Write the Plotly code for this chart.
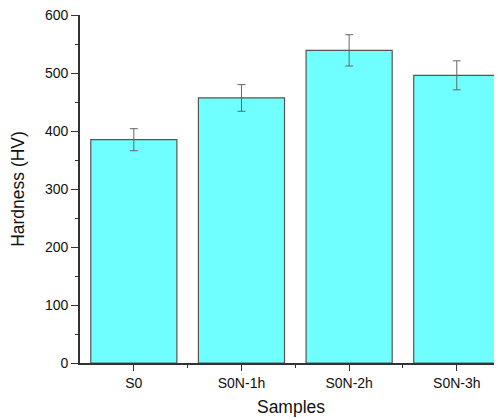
import plotly.graph_objects as go

categories = ["S0", "S0N-1h", "S0N-2h", "S0N-3h"]
hardness = [385, 457, 539, 496]
errors = [19, 23, 27, 25]
y_ticks = [0, 100, 200, 300, 400, 500, 600]

xpos = list(range(len(categories)))

fig = go.Figure()
fig.add_trace(go.Bar(
    x=xpos, y=hardness, width=0.8,
    marker=dict(color="#70FFFF", line=dict(color="#555555", width=1.2)),
    error_y=dict(type="data", array=errors, visible=True, color="#666666", thickness=1, width=4),
))

axis_color = "#333333"
# page body has an 8px margin, so the figure is 8px smaller and margins shifted
fig.update_layout(
    width=494, height=410,
    margin=dict(l=72, r=0, t=7, b=55),
    plot_bgcolor="white", paper_bgcolor="white",
    font=dict(family="Liberation Sans, Arial, sans-serif", color="#111111"),
    showlegend=False,
)
fig.update_xaxes(
    range=[-0.5, 3.42], tickvals=xpos, ticktext=categories,
    showline=True, linecolor=axis_color, linewidth=1.6,
    ticks="outside", ticklen=6, tickwidth=1.4, tickcolor=axis_color,
    minor=dict(tickvals=[0.5, 1.5, 2.5], ticks="outside", ticklen=3, tickwidth=1.2, tickcolor=axis_color),
    showgrid=False, zeroline=False, ticklabeloverflow="allow",
    tickfont=dict(size=14),
    title=dict(text="Samples", font=dict(size=17.5), standoff=11),
)
fig.update_yaxes(
    range=[0, 600], tickvals=y_ticks,
    showline=True, linecolor=axis_color, linewidth=1.6,
    ticks="outside", ticklen=7, tickwidth=1.4, tickcolor=axis_color,
    minor=dict(dtick=50, ticks="outside", ticklen=3, tickwidth=1.2, tickcolor=axis_color, showgrid=False),
    showgrid=False, zeroline=False, ticklabeloverflow="allow",
    tickfont=dict(size=14),
    title=dict(text="Hardness (HV)", font=dict(size=17.5), standoff=17),
)

fig.write_html("out.html")
